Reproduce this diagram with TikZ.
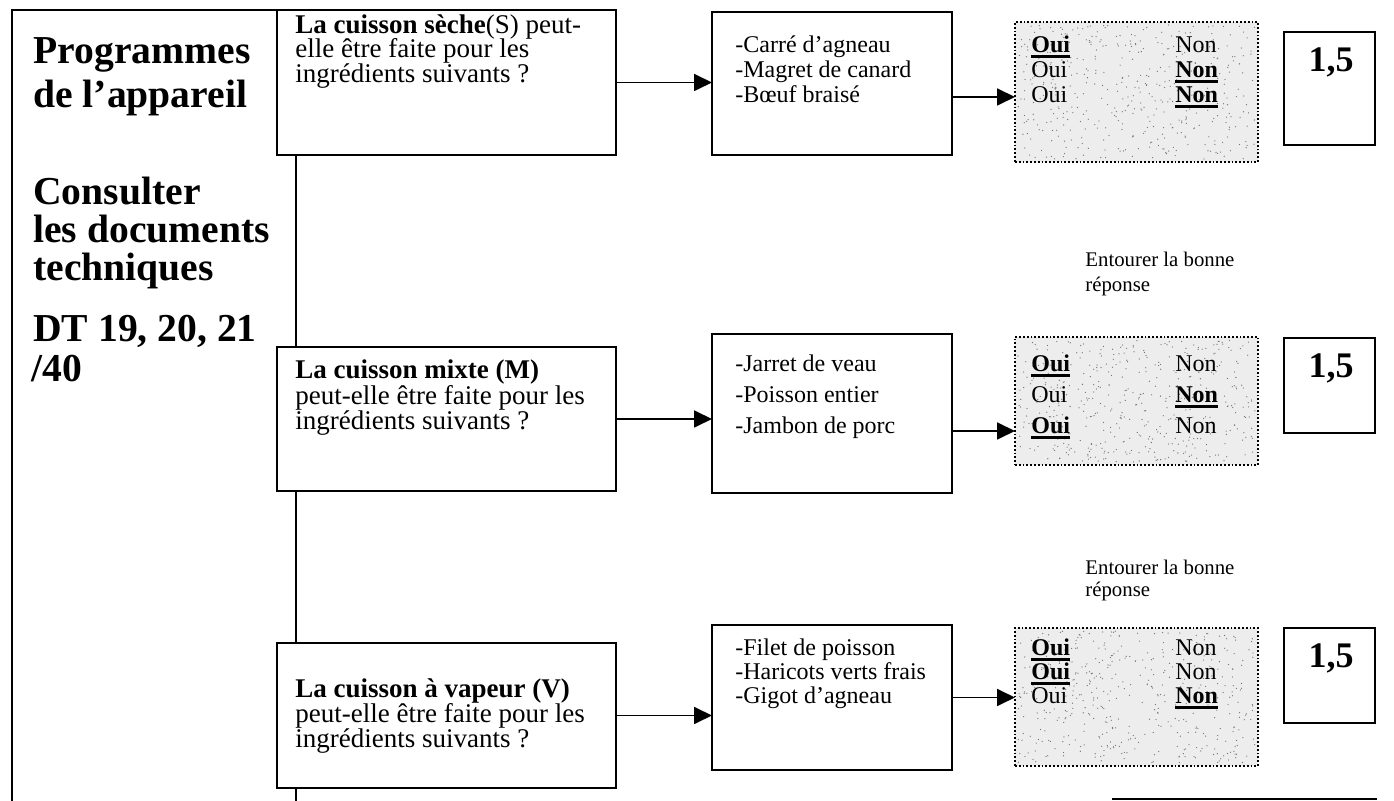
\documentclass[tikz,border=0pt]{standalone}
\usepackage{fontspec}
\setmainfont{Liberation Serif}
\usetikzlibrary{arrows.meta,calc}
\newsavebox\ubfbox
\newcommand\ubf[1]{\sbox\ubfbox{\bfseries #1}\rlap{\rule[-2.6pt]{\wd\ubfbox}{1.2pt}}\usebox\ubfbox}
\begin{document}
\begin{tikzpicture}[x=0.5pt,y=-0.5pt,
  box/.style={draw, line width=0.9pt, inner sep=0pt, outer sep=0pt},
  dbox/.style={draw, densely dotted, line width=0.9pt, fill=black!7, inner sep=0pt, outer sep=0pt},
  conn/.style={line width=0.9pt},
  arr/.style={line width=0.9pt, -{Triangle[length=9pt,width=8.5pt]}},
  qtxt/.style={anchor=base west, inner sep=0pt, font=\fontsize{13.5}{15}\selectfont},
  txt/.style={anchor=base west, inner sep=0pt, font=\fontsize{12}{14}\selectfont},
  big/.style={anchor=base west, inner sep=0pt, font=\fontsize{19.8}{22}\selectfont\bfseries},
  small/.style={anchor=base west, inner sep=0pt, font=\fontsize{10.4}{12}\selectfont},
  score/.style={anchor=base, inner sep=0pt, font=\fontsize{18}{20}\selectfont\bfseries},
  speck/.style={fill=black!55},
]
\useasboundingbox (0,0) rectangle (1394,801);
\fill[white] (0,0) rectangle (1394,801);

% boxes
\node[box, minimum width=169.5pt, minimum height=72.5pt] (q1) at (446.5,82.5) {};
\node[box, minimum width=169.5pt, minimum height=72pt] (q2) at (446.5,419) {};
\node[box, minimum width=169.5pt, minimum height=72.5pt] (q3) at (446.5,715.5) {};
\node[box, minimum width=120pt, minimum height=71.5pt] (i1) at (832,83.5) {};
\node[box, minimum width=120pt, minimum height=79.5pt] (i2) at (832,413.5) {};
\node[box, minimum width=120pt, minimum height=72.5pt] (i3) at (832,697.5) {};
\node[dbox, minimum width=121.5pt, minimum height=70pt] (d1) at (1136.5,92) {};
\node[dbox, minimum width=121.5pt, minimum height=64pt] (d2) at (1136.5,401) {};
\node[dbox, minimum width=121.5pt, minimum height=69pt] (d3) at (1136.5,697) {};
\node[box, minimum width=45.5pt, minimum height=56.5pt] (s1) at (1329.5,88.5) {};
\node[box, minimum width=45.5pt, minimum height=47.5pt] (s2) at (1329.5,385.5) {};
\node[box, minimum width=45.5pt, minimum height=47.5pt] (s3) at (1329.5,675.5) {};

% speckled texture of the answer boxes
\pgfmathsetseed{7}
\foreach \k in {1,...,450}{
  \fill[speck] ({1018+rnd*237},{25+rnd*134}) circle (0.32pt);
  \fill[speck] ({1018+rnd*237},{340+rnd*122}) circle (0.32pt);
  \fill[speck] ({1018+rnd*237},{631+rnd*132}) circle (0.32pt);
}

% left frame
\coordinate (ltop) at (12,10);
\coordinate (lbot) at (12,801);
\draw[conn] (q1.north west) -- (ltop) -- (lbot);

% vertical connector
\coordinate (vx) at (296,0);
\coordinate (vend) at (296,801);
\draw[conn] (q1.south -| vx) -- (q2.north -| vx);
\draw[conn] (q2.south -| vx) -- (q3.north -| vx);
\draw[conn] (q3.south -| vx) -- (vend);

% arrows
\draw[arr] (q1.east) -- (q1.east -| i1.west);
\draw[arr] (q2.east) -- (q2.east -| i2.west);
\draw[arr] (q3.east) -- (q3.east -| i3.west);
\draw[arr] ([yshift=-6.75pt]i1.east) -- ([yshift=-6.75pt]i1.east -| d1.west);
\draw[arr] ([yshift=-8.75pt]i2.east) -- ([yshift=-8.75pt]i2.east -| d2.west);
\draw[arr] (i3.east) -- (i3.east -| d3.west);

% bottom cut-off bar
\coordinate (bara) at (1112,799);
\coordinate (barb) at (1377,799);
\draw[line width=1.3pt] (bara) -- (barb);

% left text
\node[big] (l1) at (33,64) {Programmes};
\node[big] (l2) at (33,108) {de l’appareil};
\node[big] (l3) at (33,205) {Consulter};
\node[big] (l4) at (33,243) {les documents};
\node[big] (l5) at (33,281) {techniques};
\node[big] (l6) at (33,342) {DT 19, 20, 21};
\node[big] (l7) at (31,382) {/40};

% question texts
\node[qtxt] (q1a) at (295,34) {\textbf{La cuisson sèche}(S) peut-};
\node[qtxt] (q1b) at (295,58) {elle être faite pour les};
\node[qtxt] (q1c) at (295,83) {ingrédients suivants ?};
\node[qtxt] (q2a) at (295,379) {\textbf{La cuisson mixte (M)}};
\node[qtxt] (q2b) at (295,405) {peut-elle être faite pour les};
\node[qtxt] (q2c) at (295,430) {ingrédients suivants ?};
\node[qtxt] (q3a) at (295,698) {\textbf{La cuisson à vapeur (V)}};
\node[qtxt] (q3b) at (295,723) {peut-elle être faite pour les};
\node[qtxt] (q3c) at (295,748) {ingrédients suivants ?};

% ingredient texts
\node[txt] (i1a) at (735,52.5) {-Carré d’agneau};
\node[txt] (i1b) at (735,77.5) {-Magret de canard};
\node[txt] (i1c) at (735,102.5) {-Bœuf braisé};
\node[txt] (i2a) at (735,371.5) {-Jarret de veau};
\node[txt] (i2b) at (735,402.5) {-Poisson entier};
\node[txt] (i2c) at (735,433.5) {-Jambon de porc};
\node[txt] (i3a) at (735,655.5) {-Filet de poisson};
\node[txt] (i3b) at (735,679.5) {-Haricots verts frais};
\node[txt] (i3c) at (735,703.5) {-Gigot d’agneau};

% oui / non
\node[txt] (o1a) at (1031,52.5) {\ubf{Oui}};
\node[txt] (n1a) at (1175,52.5) {Non};
\node[txt] (o1b) at (1031,77.5) {Oui};
\node[txt] (n1b) at (1175,77.5) {\ubf{Non}};
\node[txt] (o1c) at (1031,102.5) {Oui};
\node[txt] (n1c) at (1175,102.5) {\ubf{Non}};
\node[txt] (o2a) at (1031,371.5) {\ubf{Oui}};
\node[txt] (n2a) at (1175,371.5) {Non};
\node[txt] (o2b) at (1031,402.5) {Oui};
\node[txt] (n2b) at (1175,402.5) {\ubf{Non}};
\node[txt] (o2c) at (1031,433.5) {\ubf{Oui}};
\node[txt] (n2c) at (1175,433.5) {Non};
\node[txt] (o3a) at (1031,655.5) {\ubf{Oui}};
\node[txt] (n3a) at (1175,655.5) {Non};
\node[txt] (o3b) at (1031,679.5) {\ubf{Oui}};
\node[txt] (n3b) at (1175,679.5) {Non};
\node[txt] (o3c) at (1031,703.5) {Oui};
\node[txt] (n3c) at (1175,703.5) {\ubf{Non}};

% scores
\node[score] (s1t) at (1331,72) {1,5};
\node[score] (s2t) at (1331,378) {1,5};
\node[score] (s3t) at (1331,668) {1,5};

% instructions
\node[small] (e2a) at (1085,267) {Entourer la bonne};
\node[small] (e2b) at (1085,292) {réponse};
\node[small] (e3a) at (1085,575) {Entourer la bonne};
\node[small] (e3b) at (1085,597) {réponse};
\end{tikzpicture}
\end{document}
